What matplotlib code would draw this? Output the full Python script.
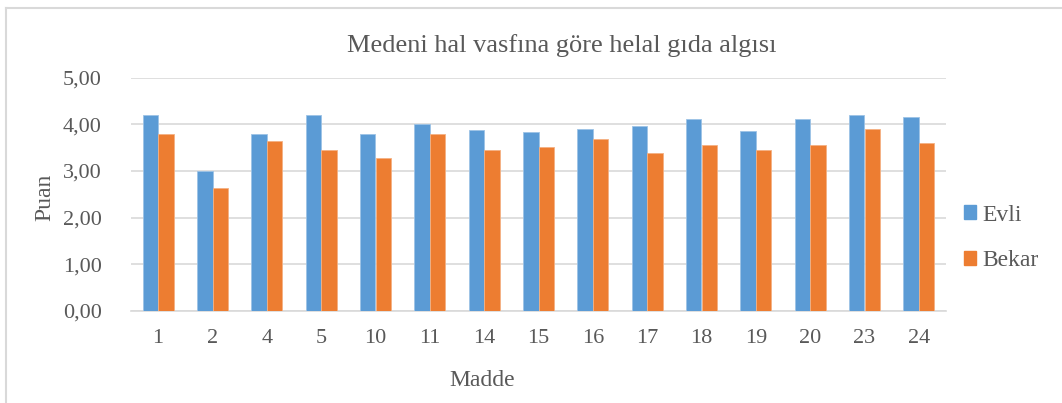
import numpy as np
import matplotlib
matplotlib.use('Agg')
import matplotlib.pyplot as plt
from matplotlib.lines import Line2D
from matplotlib.ticker import FuncFormatter
import matplotlib.patches as mpatches

maddeler = ['1', '2', '4', '5', '10', '11', '14', '15', '16', '17', '18', '19', '20', '23', '24']
evli = [4.21, 3.00, 3.79, 4.21, 3.79, 4.01, 3.87, 3.83, 3.91, 3.96, 4.12, 3.85, 4.12, 4.21, 4.15]
bekar = [3.79, 2.64, 3.64, 3.44, 3.27, 3.79, 3.46, 3.52, 3.68, 3.38, 3.55, 3.44, 3.55, 3.91, 3.60]

mavi = '#5B9BD5'
turuncu = '#ED7D31'
gri = '#595959'
izgara = '#D9D9D9'

plt.rcParams['font.family'] = ['Liberation Serif', 'DejaVu Serif']

W, H = 1062, 403
fig = plt.figure(figsize=(W / 100, H / 100), dpi=100)
ax = fig.add_axes([131 / W, 1 - 311 / H, (946 - 131) / W, (311 - 77.7) / H])

x = np.arange(len(maddeler))
w = 0.283
ax.bar(x - w / 2, evli, w, color=mavi, edgecolor='#9DC3E6', linewidth=0.6, zorder=3)
ax.bar(x + w / 2, bekar, w, color=turuncu, edgecolor='#F4B183', linewidth=0.6, zorder=3)

ax.set_xlim(-0.5, len(maddeler) - 0.5)
ax.set_ylim(0, 5)
ax.set_yticks(np.arange(0, 6, 1))
ax.yaxis.set_major_formatter(FuncFormatter(lambda v, p: ('%.2f' % v).replace('.', ',')))
ax.set_xticks(x)
ax.set_xticklabels(maddeler)
ax.grid(axis='y', color=izgara, linewidth=1.2, zorder=0)
for s in ['top', 'right', 'left']:
    ax.spines[s].set_visible(False)
ax.spines['bottom'].set_color(izgara)
ax.spines['bottom'].set_linewidth(1.2)
ax.tick_params(axis='both', length=0, labelsize=16, labelcolor=gri)
ax.tick_params(axis='y', pad=21)
ax.tick_params(axis='x', pad=13)

"Basliklar"
fig.text(562 / W, 1 - 46 / H, 'Medeni hal vasfına göre helal gıda algısı',
         ha='center', va='center', fontsize=19, color=gri)
fig.text(482 / W, 1 - 381 / H, 'Madde', ha='center', va='center', fontsize=17, color=gri)
fig.text(45 / W, 1 - 197 / H, 'Puan', ha='center', va='center', fontsize=17, color=gri, rotation=90)

"Legend"
h1 = mpatches.Patch(color=mavi, label='Evli')
h2 = mpatches.Patch(color=turuncu, label='Bekar')
leg = fig.legend(handles=[h1, h2], loc='center left', bbox_to_anchor=(943 / W, 1 - 238 / H),
                 frameon=False, fontsize=17, handlelength=0.5, handleheight=0.5,
                 handletextpad=0.25, labelspacing=1.05, labelcolor=gri)

"Cerceve"
fig.add_artist(Line2D([6 / W, 6 / W], [0, 1 - 8 / H], color='#D9D9D9', linewidth=1.5, transform=fig.transFigure))
fig.add_artist(Line2D([6 / W, 1], [1 - 8 / H, 1 - 8 / H], color='#D9D9D9', linewidth=1.5, transform=fig.transFigure))

fig.savefig('out.png', dpi=100)
